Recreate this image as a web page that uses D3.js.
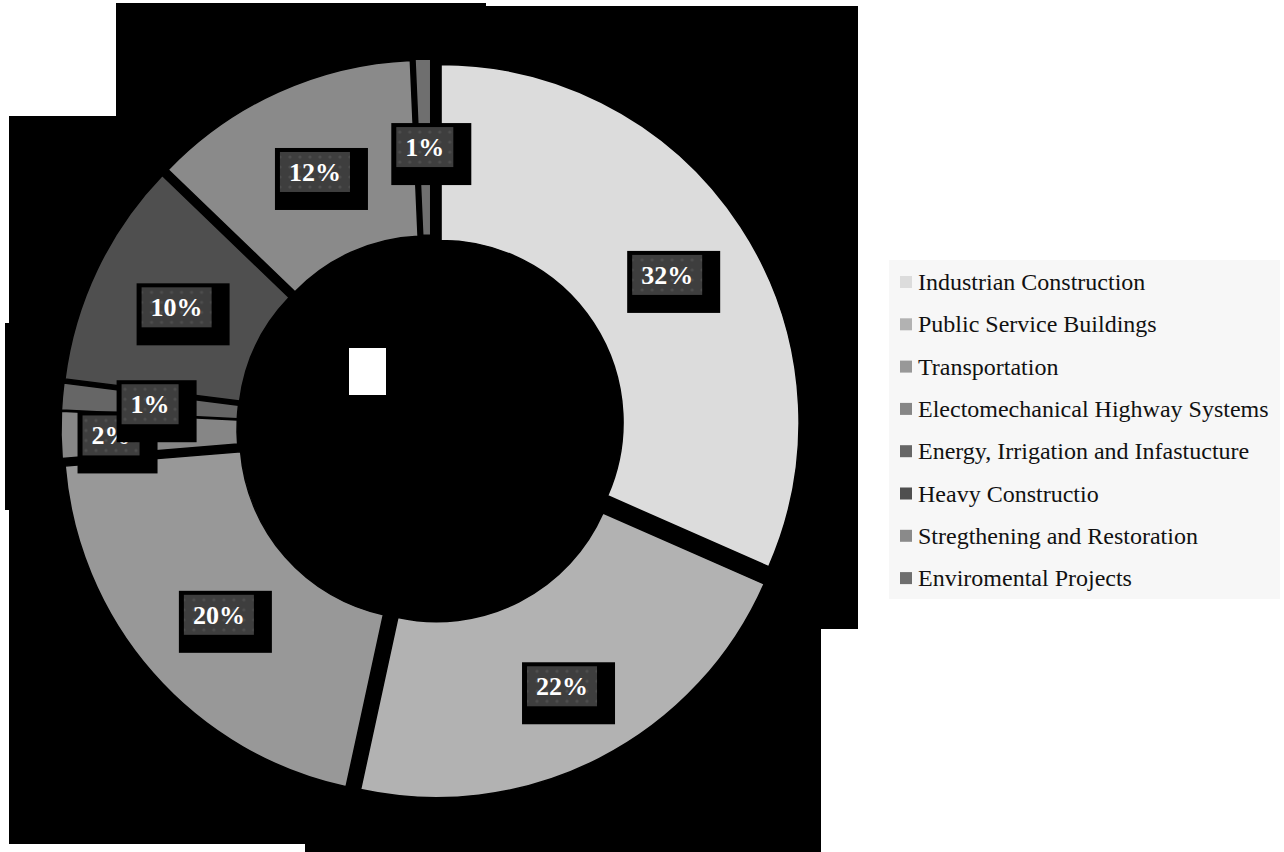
<!DOCTYPE html>
<html>
<head>
<meta charset="utf-8">
<script src="https://cdn.jsdelivr.net/npm/d3@7"></script>
<style>
  body { margin: 0; background: #fff; }
  svg { display: block; }
</style>
</head>
<body>
<div id="chart"></div>
<script>
// data
const categories = [
  "Industrian Construction",
  "Public Service Buildings",
  "Transportation",
  "Electomechanical Highway Systems",
  "Energy, Irrigation and Infastucture",
  "Heavy Constructio",
  "Stregthening and Restoration",
  "Enviromental Projects"
]
const shares = [31.6, 21.8, 20.3, 2.1, 1.2, 10.2, 12.1, 0.7]
const colors = ["#dcdcdc", "#b2b2b2", "#989898", "#868686", "#666666", "#4f4f4f", "#8a8a8a", "#6f6f6f"]

const width = 1284
const height = 852
const cx = 431
const cy = 429
const outerR = 358
const innerR = 182
const explode = 12
const serif = "'Liberation Serif', 'Times New Roman', serif"

const svg = d3.select("#chart").append("svg")
  .attr("width", width)
  .attr("height", height)

// texture for the label boxes
const pat = svg.append("defs").append("pattern")
  .attr("id", "dots")
  .attr("width", 10)
  .attr("height", 10)
  .attr("patternUnits", "userSpaceOnUse")
pat.append("rect").attr("width", 10).attr("height", 10).attr("fill", "#3e3e3e")
pat.append("circle").attr("cx", 5).attr("cy", 5).attr("r", 1.6).attr("fill", "#4e4e4e")

// black backdrop behind the ring
const backdrop = [
  [116, 3, 370, 120],
  [486, 6, 372, 623],
  [9, 116, 812, 728],
  [5, 323, 10, 187],
  [305, 840, 516, 12]
]
svg.append("g")
  .selectAll("rect")
  .data(backdrop)
  .enter()
  .append("rect")
  .attr("x", d => d[0])
  .attr("y", d => d[1])
  .attr("width", d => d[2])
  .attr("height", d => d[3])
  .attr("fill", "#000")

const pie = d3.pie().sort(null).value(d => d)
const arcs = pie(shares)
const total = d3.sum(shares)

const arc = d3.arc().innerRadius(innerR).outerRadius(outerR)
const labelArc = d3.arc().innerRadius(innerR + explode).outerRadius(outerR + explode)

function offset(d, r) {
  const a = (d.startAngle + d.endAngle) / 2
  return [Math.sin(a) * r, -Math.cos(a) * r]
}

const ring = svg.append("g").attr("transform", `translate(${cx},${cy})`)

ring.selectAll("path")
  .data(arcs)
  .enter()
  .append("path")
  .attr("d", arc)
  .attr("fill", (d, i) => colors[i])
  .attr("stroke", "#000")
  .attr("stroke-width", 1.5)
  .attr("transform", d => {
    const o = offset(d, explode)
    return `translate(${o[0]},${o[1]})`
  })

// white square left in the hole
svg.append("rect")
  .attr("x", 349).attr("y", 348)
  .attr("width", 37).attr("height", 47)
  .attr("fill", "#fff")

// the 2% label was pushed left to clear its neighbour
const nudge = { 1: [3, 6], 3: [-38, 2] }

const labels = ring.append("g")
arcs.forEach((d, i) => {
  const c = labelArc.centroid(d)
  const n = nudge[i] || [0, 0]
  const x = c[0] + n[0]
  const y = c[1] + n[1]
  const g = labels.append("g").attr("transform", `translate(${x},${y})`)
  const shadow = g.append("rect").attr("fill", "#000")
  const box = g.append("rect").attr("fill", "url(#dots)")
  const t = g.append("text")
    .attr("text-anchor", "middle")
    .attr("y", 9)
    .attr("fill", "#fff")
    .attr("font-family", serif)
    .attr("font-weight", "bold")
    .attr("font-size", 26)
    .text(Math.round(d.value / total * 100) + "%")
  const w = t.node().getComputedTextLength() + 18
  const h = 40
  box.attr("x", -w / 2).attr("y", -h / 2).attr("width", w).attr("height", h)
  shadow.attr("x", -w / 2 - 5).attr("y", -h / 2 - 4).attr("width", w + 23).attr("height", h + 22)
})

// legend
const legend = svg.append("g")
legend.append("rect")
  .attr("x", 889).attr("y", 260)
  .attr("width", 391).attr("height", 339)
  .attr("fill", "#f7f7f7")

const item = legend.selectAll(".item")
  .data(categories)
  .enter()
  .append("g")
  .attr("class", "item")
  .attr("transform", (d, i) => `translate(900,${282 + i * 42.3})`)

item.append("rect")
  .attr("x", 0).attr("y", -6)
  .attr("width", 12).attr("height", 12)
  .attr("fill", (d, i) => colors[i])

item.append("text")
  .attr("x", 18)
  .attr("y", 8)
  .attr("fill", "#111")
  .attr("font-family", serif)
  .attr("font-size", 24)
  .text(d => d)
</script>
</body>
</html>
